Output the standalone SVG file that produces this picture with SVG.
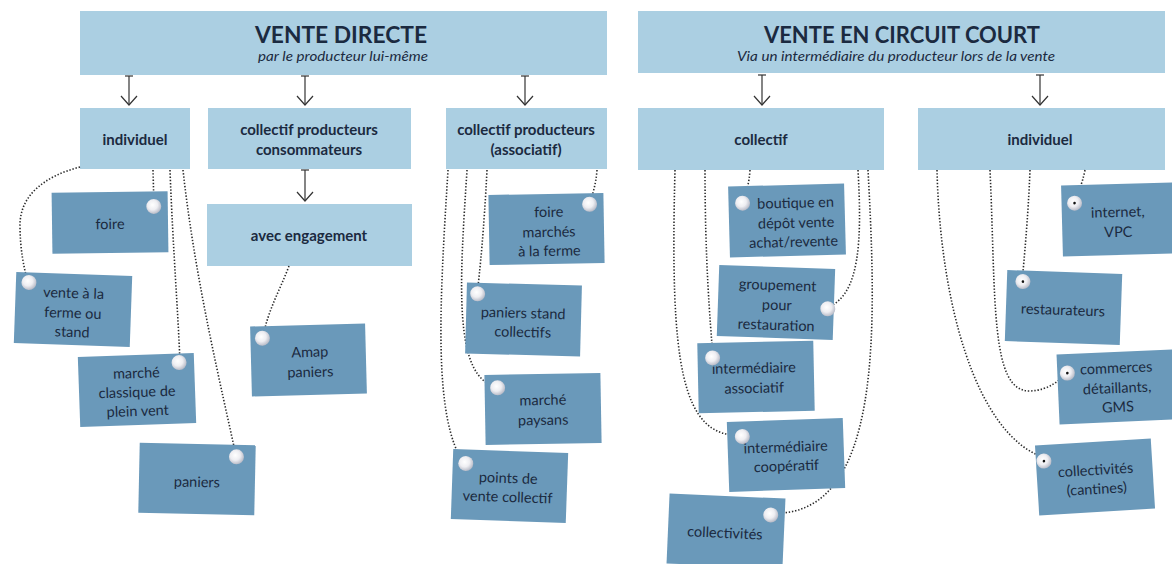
<svg xmlns="http://www.w3.org/2000/svg" width="1172" height="564" viewBox="0 0 1172 564">
<defs>
<style>
.hd{fill:#abcfe2}
.nt{fill:#6a99ba}
.t{font-family:Lato,"Liberation Sans",sans-serif;fill:#1b2a40;text-anchor:middle}
.ttl{font-size:23px;font-weight:bold}
.sub{font-size:13px;font-style:italic}
.b{font-size:15px;font-weight:bold}
.n{font-size:14.5px}
.dot{fill:none;stroke:#2b2b2b;stroke-width:1.6;stroke-dasharray:1.4 1.8}
.ar{fill:none;stroke:#333;stroke-width:1.2}
.pin{fill:url(#pg)}
.pd{fill:#111}
</style>
<radialGradient id="pg" cx="0.42" cy="0.4" r="0.6">
<stop offset="0" stop-color="#ffffff"/>
<stop offset="0.55" stop-color="#eeeef2"/>
<stop offset="1" stop-color="#b9bcc8"/>
</radialGradient>
<marker id="ah" viewBox="0 0 12 18" refX="11" refY="9" markerWidth="12" markerHeight="18" markerUnits="userSpaceOnUse" orient="auto">
<path d="M2,1 L11,9 L2,17" fill="none" stroke="#333" stroke-width="1.2"/>
</marker>
</defs>
<rect width="1172" height="564" fill="#ffffff"/>

<g id="vente-directe">
<rect class="hd" x="80" y="11" width="527" height="64"/>
<text class="t ttl" x="341" y="43" textLength="172" lengthAdjust="spacingAndGlyphs">VENTE DIRECTE</text>
<text class="t sub" x="343" y="61" textLength="170" lengthAdjust="spacingAndGlyphs">par le producteur lui-même</text>
</g>
<g id="vente-circuit-court">
<rect class="hd" x="638" y="11" width="527" height="62"/>
<text class="t ttl" x="902" y="43" textLength="276" lengthAdjust="spacingAndGlyphs">VENTE EN CIRCUIT COURT</text>
<text class="t sub" x="896" y="61" textLength="318" lengthAdjust="spacingAndGlyphs">Via un intermédiaire du producteur lors de la vente</text>
</g>

<g id="vd-individuel">
<rect class="hd" x="80" y="108" width="110" height="61"/>
<text class="t b" x="135" y="145">individuel</text>
</g>
<g id="vd-collectif-prod-cons">
<rect class="hd" x="208" y="108" width="203" height="61"/>
<text class="t b" x="309" y="135">collectif producteurs</text>
<text class="t b" x="309" y="155">consommateurs</text>
</g>
<g id="vd-collectif-assoc">
<rect class="hd" x="446" y="108" width="161" height="61"/>
<text class="t b" x="526" y="135">collectif producteurs</text>
<text class="t b" x="526" y="155">(associatif)</text>
</g>
<g id="avec-engagement">
<rect class="hd" x="207" y="204" width="205" height="62"/>
<text class="t b" x="309" y="241">avec engagement</text>
</g>
<g id="vcc-collectif">
<rect class="hd" x="638" y="108" width="246" height="62"/>
<text class="t b" x="761" y="145">collectif</text>
</g>
<g id="vcc-individuel">
<rect class="hd" x="918" y="108" width="247" height="62"/>
<text class="t b" x="1040" y="145">individuel</text>
</g>

<g id="connectors">
<path class="ar" d="M125,76 H133"/><path class="ar" d="M129,76 V105" marker-end="url(#ah)"/>
<path class="ar" d="M301,76 H309"/><path class="ar" d="M305,76 V105" marker-end="url(#ah)"/>
<path class="ar" d="M521,76 H529"/><path class="ar" d="M525,76 V105" marker-end="url(#ah)"/>
<path class="ar" d="M301,170 H309"/><path class="ar" d="M305,170 V201" marker-end="url(#ah)"/>
<path class="ar" d="M758,75 H766"/><path class="ar" d="M762,75 V105" marker-end="url(#ah)"/>
<path class="ar" d="M1036,75 H1044"/><path class="ar" d="M1040,75 V105" marker-end="url(#ah)"/>

<path class="dot" d="M80,167 C45,176 20,195 20,225 C20,250 24,268 28,283"/>
<path class="dot" d="M153,170 L154,206"/>
<path class="dot" d="M170,170 C173,250 178,310 180,363"/>
<path class="dot" d="M183,170 C195,280 222,390 236,456"/>
<path class="dot" d="M289,266 C280,290 268,310 263,337"/>
<path class="dot" d="M448,170 C440,300 432,420 465,465"/>
<path class="dot" d="M467,170 C460,280 452,380 498,387"/>
<path class="dot" d="M487,170 C484,230 480,270 477,295"/>
<path class="dot" d="M597,170 C596,185 592,195 590,205"/>
<path class="dot" d="M750,170 C749,185 746,192 743,202"/>
<path class="dot" d="M858,170 C862,240 860,295 828,307"/>
<path class="dot" d="M868,170 C876,320 885,520 770,513"/>
<path class="dot" d="M705,170 C705,260 710,320 713,357"/>
<path class="dot" d="M675,170 C670,360 680,440 743,435"/>
<path class="dot" d="M1085,170 C1082,185 1078,192 1075,202"/>
<path class="dot" d="M1030,170 C1028,220 1024,260 1022,283"/>
<path class="dot" d="M990,170 C996,300 990,392 1030,391 C1050,390 1060,380 1068,371"/>
<path class="dot" d="M937,170 C940,300 975,435 1045,458"/>
</g>

<g id="foire" transform="rotate(-0.8 110 222)">
<rect class="nt" x="52" y="192" width="116" height="61"/>
<text class="t n" x="110" y="229">foire</text>
<circle class="pin" cx="154" cy="207" r="7.5"/>
</g>
<g id="vente-ferme" transform="rotate(2 73 310)">
<rect class="nt" x="15" y="274" width="116" height="71"/>
<text class="t n" x="73" y="298">vente à la</text>
<text class="t n" x="73" y="318">ferme ou</text>
<text class="t n" x="73" y="337">stand</text>
<circle class="pin" cx="28" cy="284" r="7.5"/>
</g>
<g id="marche-classique" transform="rotate(-2 137 390)">
<rect class="nt" x="79" y="355" width="116" height="70"/>
<text class="t n" x="137" y="378">marché</text>
<text class="t n" x="137" y="397">classique de</text>
<text class="t n" x="137" y="416">plein vent</text>
<circle class="pin" cx="180" cy="364" r="7.5"/>
</g>
<g id="paniers" transform="rotate(1.2 197 479)">
<rect class="nt" x="139" y="444" width="116" height="70"/>
<text class="t n" x="197" y="487">paniers</text>
<circle class="pin" cx="236" cy="456" r="7.5"/>
</g>
<g id="amap" transform="rotate(-1.5 308 360)">
<rect class="nt" x="251" y="325" width="115" height="70"/>
<text class="t n" x="310" y="357">Amap</text>
<text class="t n" x="310" y="377">paniers</text>
<circle class="pin" cx="263" cy="337" r="7.5"/>
</g>
<g id="foire-marches" transform="rotate(-1 546 229)">
<rect class="nt" x="489" y="194" width="115" height="70"/>
<text class="t n" x="549" y="217">foire</text>
<text class="t n" x="549" y="237">marchés</text>
<text class="t n" x="549" y="256">à la ferme</text>
<circle class="pin" cx="590" cy="205" r="7.5"/>
</g>
<g id="paniers-stand" transform="rotate(1.5 523 320)">
<rect class="nt" x="466" y="284" width="115" height="71"/>
<text class="t n" x="523" y="318">paniers stand</text>
<text class="t n" x="523" y="337">collectifs</text>
<circle class="pin" cx="477" cy="295" r="7.5"/>
</g>
<g id="marche-paysans" transform="rotate(-1 543 409)">
<rect class="nt" x="485" y="374" width="116" height="70"/>
<text class="t n" x="543" y="405">marché</text>
<text class="t n" x="543" y="425">paysans</text>
<circle class="pin" cx="498" cy="387" r="7.5"/>
</g>
<g id="points-vente" transform="rotate(2 509 486)">
<rect class="nt" x="452" y="451" width="115" height="70"/>
<text class="t n" x="508" y="483">points de</text>
<text class="t n" x="508" y="502">vente collectif</text>
<circle class="pin" cx="465" cy="465" r="7.5"/>
</g>

<g id="boutique" transform="rotate(-1.5 787 220)">
<rect class="nt" x="729" y="185" width="116" height="71"/>
<text class="t n" x="796" y="208">boutique en</text>
<text class="t n" x="796" y="228">dépôt vente</text>
<text class="t n" x="793" y="247">achat/revente</text>
<circle class="pin" cx="743" cy="202" r="7.5"/>
</g>
<g id="groupement" transform="rotate(2 776 302)">
<rect class="nt" x="718" y="267" width="116" height="71"/>
<text class="t n" x="777" y="290">groupement</text>
<text class="t n" x="777" y="310">pour</text>
<text class="t n" x="777" y="330">restauration</text>
<circle class="pin" cx="828" cy="307" r="7.5"/>
</g>
<g id="intermediaire-associatif" transform="rotate(-1.2 756 377)">
<rect class="nt" x="698" y="342" width="116" height="70"/>
<text class="t n" x="754" y="373">intermédiaire</text>
<text class="t n" x="754" y="393">associatif</text>
<circle class="pin" cx="713" cy="357" r="7.5"/>
</g>
<g id="intermediaire-cooperatif" transform="rotate(-2 786 455)">
<rect class="nt" x="728" y="420" width="116" height="70"/>
<text class="t n" x="786" y="452">intermédiaire</text>
<text class="t n" x="786" y="471">coopératif</text>
<circle class="pin" cx="743" cy="435" r="7.5"/>
</g>
<g id="collectivites" transform="rotate(2.5 726 531)">
<rect class="nt" x="668" y="496" width="116" height="70"/>
<text class="t n" x="725" y="538">collectivités</text>
<circle class="pin" cx="770" cy="513" r="7.5"/>
</g>

<g id="internet" transform="rotate(-1.5 1118 220)">
<rect class="nt" x="1062" y="184" width="112" height="71"/>
<text class="t n" x="1118" y="217">internet,</text>
<text class="t n" x="1118" y="237">VPC</text>
<circle class="pin" cx="1075" cy="202" r="7.5"/>
<circle class="pd" cx="1075" cy="202" r="1.3"/>
</g>
<g id="restaurateurs" transform="rotate(2 1063 308)">
<rect class="nt" x="1006" y="272" width="115" height="71"/>
<text class="t n" x="1063" y="315">restaurateurs</text>
<circle class="pin" cx="1022" cy="283" r="7.5"/>
<circle class="pd" cx="1022" cy="283" r="1.3"/>
</g>
<g id="commerces" transform="rotate(-2.5 1116 387)">
<rect class="nt" x="1058" y="352" width="116" height="70"/>
<text class="t n" x="1117" y="373">commerces</text>
<text class="t n" x="1117" y="393">détaillants,</text>
<text class="t n" x="1117" y="412">GMS</text>
<circle class="pin" cx="1068" cy="371" r="7.5"/>
<circle class="pd" cx="1068" cy="371" r="1.3"/>
</g>
<g id="collectivites-cantines" transform="rotate(-3.5 1095 477)">
<rect class="nt" x="1037" y="442" width="116" height="70"/>
<text class="t n" x="1096" y="475">collectivités</text>
<text class="t n" x="1096" y="494">(cantines)</text>
<circle class="pin" cx="1045" cy="458" r="7.5"/>
<circle class="pd" cx="1045" cy="458" r="1.3"/>
</g>
</svg>
